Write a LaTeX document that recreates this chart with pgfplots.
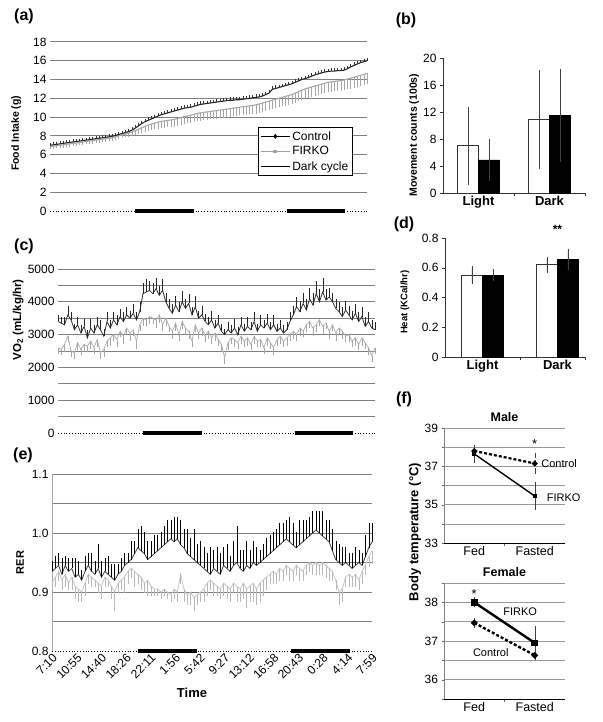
\documentclass[border=0pt]{standalone}
\usepackage{fontspec}
\setmainfont{Liberation Sans}
\usepackage{pgfplots}
\usepackage{pgfplotstable}
\pgfplotsset{compat=1.18}

% cumulative food intake (g), every 0.5 h
\pgfplotstableread{
t c ce f fe
0 7.00 .15 6.85 .15
0.5 7.05 .15 6.90 .15
1 7.10 .15 6.95 .15
1.5 7.15 .15 7.00 .15
2 7.20 .15 7.05 .2
2.5 7.25 .15 7.10 .2
3 7.30 .15 7.15 .2
3.5 7.35 .15 7.20 .2
4 7.40 .15 7.25 .2
4.5 7.45 .15 7.30 .2
5 7.50 .15 7.35 .2
5.5 7.55 .15 7.40 .2
6 7.60 .15 7.45 .2
6.5 7.65 .15 7.50 .2
7 7.70 .15 7.55 .2
7.5 7.75 .15 7.60 .2
8 7.80 .15 7.65 .2
8.5 7.85 .15 7.70 .2
9 7.90 .15 7.75 .2
9.5 7.95 .15 7.80 .2
10 8.05 .15 7.90 .2
10.5 8.15 .15 8.00 .25
11 8.25 .15 8.10 .25
11.5 8.35 .15 8.20 .25
12 8.45 .2 8.30 .3
12.5 8.60 .2 8.40 .3
13 8.80 .2 8.55 .35
13.5 9.05 .2 8.70 .4
14 9.30 .2 8.85 .45
14.5 9.50 .2 9.00 .5
15 9.65 .2 9.15 .5
15.5 9.80 .2 9.25 .55
16 9.95 .2 9.35 .55
16.5 10.10 .2 9.45 .6
17 10.25 .2 9.55 .6
17.5 10.35 .2 9.60 .6
18 10.45 .2 9.65 .6
18.5 10.55 .2 9.70 .6
19 10.65 .2 9.75 .65
19.5 10.75 .2 9.85 .65
20 10.85 .2 9.95 .65
20.5 10.95 .2 10.05 .65
21 11.00 .2 10.10 .65
21.5 11.05 .2 10.20 .7
22 11.15 .2 10.30 .7
22.5 11.25 .2 10.40 .7
23 11.35 .2 10.45 .7
23.5 11.40 .2 10.50 .7
24 11.45 .2 10.55 .7
24.5 11.50 .2 10.60 .7
25 11.55 .2 10.65 .7
25.5 11.60 .2 10.70 .75
26 11.65 .2 10.75 .75
26.5 11.70 .2 10.80 .75
27 11.75 .2 10.85 .75
27.5 11.80 .2 10.90 .75
28 11.80 .2 10.95 .75
28.5 11.85 .2 11.00 .75
29 11.85 .2 11.05 .75
29.5 11.90 .2 11.10 .8
30 11.95 .2 11.15 .8
30.5 12.00 .2 11.20 .8
31 12.05 .2 11.25 .8
31.5 12.10 .2 11.30 .8
32 12.15 .2 11.40 .8
32.5 12.25 .2 11.50 .8
33 12.40 .2 11.60 .8
33.5 12.55 .2 11.70 .8
34 12.95 .2 11.80 .8
34.5 13.05 .2 11.90 .85
35 13.15 .2 12.00 .85
35.5 13.25 .2 12.10 .85
36 13.35 .2 12.20 .85
36.5 13.45 .2 12.30 .85
37 13.55 .2 12.40 .9
37.5 13.70 .2 12.55 .9
38 13.85 .2 12.70 .9
38.5 14.00 .2 12.85 .9
39 14.10 .2 13.00 .9
39.5 14.20 .2 13.10 .9
40 14.35 .2 13.20 .9
40.5 14.50 .2 13.30 .9
41 14.60 .2 13.40 .9
41.5 14.70 .2 13.50 .9
42 14.80 .2 13.60 .9
42.5 14.85 .2 13.70 .95
43 14.90 .2 13.75 .95
43.5 14.90 .2 13.80 .95
44 14.95 .2 13.85 .95
44.5 14.95 .2 13.90 .95
45 15.00 .2 13.95 .95
45.5 15.15 .2 14.05 .95
46 15.35 .2 14.15 1.0
46.5 15.50 .2 14.25 1.0
47 15.65 .2 14.35 1.0
47.5 15.80 .2 14.45 1.0
48 15.90 .2 14.55 1.0
48.5 16.00 .2 14.65 1.0
}\foodtab

% VO2 (mL/kg/hr): upper trace a (errors up), lower trace b (errors down)
\pgfplotstableread{
t a ae b be
0 3400 150 2600 150
0.5 3350 150 2550 150
1 3300 200 2700 200
1.5 3600 250 2950 150
2 3450 200 2500 150
2.5 3150 150 2450 150
3 3300 200 2750 200
3.5 3050 200 2550 150
4 3250 200 2700 200
4.5 2900 200 2650 150
5 3200 250 2800 200
5.5 3050 200 2600 150
6 3300 200 2850 200
6.5 3150 250 2450 150
7 2950 200 2550 200
7.5 3400 250 2800 150
8 3200 200 2900 200
8.5 3450 200 3000 150
9 3300 250 2850 200
9.5 3550 200 3100 150
10 3400 250 2950 200
10.5 3600 200 3200 150
11 3500 200 3050 200
11.5 3650 250 3150 150
12 3450 200 2800 200
12.5 3700 250 3300 150
13 4250 300 3500 200
13.5 4300 350 3450 150
14 4350 250 3550 200
14.5 4250 300 3500 150
15 4400 300 3450 200
15.5 4200 250 3600 200
16 4350 300 3300 150
16.5 4000 250 3500 200
17 3800 250 3250 150
17.5 3650 250 3100 200
18 3900 250 3350 200
18.5 3700 250 3000 150
19 4000 300 3400 200
19.5 3800 250 3200 150
20 3950 250 3100 200
20.5 3600 200 2800 150
21 3850 300 3300 200
21.5 3500 200 3050 150
22 3600 250 3200 200
22.5 3400 200 2950 150
23 3300 200 3100 200
23.5 3450 250 2900 150
24 3200 200 3050 200
24.5 3350 200 2850 150
25 3100 200 2700 200
25.5 3000 150 2300 150
26 3150 200 2750 200
26.5 3050 200 2900 150
27 3200 250 2850 200
27.5 3000 200 2750 150
28 3300 200 2950 200
28.5 3100 200 2800 150
29 3250 250 2900 200
29.5 3150 200 2700 150
30 3400 250 2950 200
30.5 3100 200 2800 150
31 3300 250 2850 200
31.5 3200 200 2600 150
32 3350 250 2900 200
32.5 3150 200 2750 150
33 3300 250 2600 200
33.5 3100 200 2850 150
34 3200 200 2950 200
34.5 3050 200 2800 150
35 3150 200 2900 200
35.5 3400 250 3000 150
36 3600 250 3100 200
36.5 3850 250 3000 150
37 3700 300 3200 200
37.5 3950 300 3100 150
38 3750 300 3300 200
38.5 4100 300 3400 150
39 3900 350 3200 200
39.5 4250 350 3300 200
40 4000 350 3450 150
40.5 4300 400 3250 200
41 4050 300 3350 150
41.5 4150 250 3100 200
42 4000 250 3300 150
42.5 3800 250 3050 200
43 3700 250 3200 150
43.5 3550 250 3100 200
44 3750 250 2950 150
44.5 3600 250 3000 200
45 3450 250 2800 150
45.5 3650 250 2900 200
46 3400 250 2700 150
46.5 3550 250 2900 200
47 3250 250 2750 150
47.5 3400 250 2600 200
48 3200 200 2350 150
48.5 3150 200 2600 150
}\votab

% RER: control (errors up), FIRKO (errors down)
\pgfplotstableread{
t c ce f fe
0 0.935 0.015 0.915 0.010
0.5 0.940 0.020 0.925 0.015
1 0.945 0.020 0.935 0.015
1.5 0.930 0.025 0.920 0.015
2 0.945 0.015 0.930 0.020
2.5 0.935 0.020 0.915 0.010
3 0.940 0.015 0.925 0.020
3.5 0.925 0.030 0.910 0.020
4 0.930 0.020 0.905 0.020
4.5 0.920 0.015 0.900 0.015
5 0.935 0.025 0.915 0.020
5.5 0.945 0.020 0.930 0.015
6 0.935 0.030 0.925 0.015
6.5 0.930 0.020 0.920 0.010
7 0.940 0.040 0.915 0.015
7.5 0.925 0.025 0.910 0.020
8 0.935 0.020 0.925 0.015
8.5 0.930 0.030 0.920 0.010
9 0.925 0.020 0.910 0.020
9.5 0.920 0.025 0.900 0.030
10 0.930 0.015 0.915 0.015
10.5 0.935 0.020 0.920 0.015
11 0.945 0.020 0.925 0.025
11.5 0.950 0.015 0.935 0.020
12 0.955 0.030 0.940 0.015
12.5 0.965 0.020 0.935 0.025
13 0.975 0.030 0.930 0.015
13.5 0.970 0.040 0.925 0.020
14 0.965 0.035 0.915 0.015
14.5 0.955 0.030 0.920 0.025
15 0.960 0.025 0.910 0.015
15.5 0.965 0.030 0.905 0.010
16 0.970 0.025 0.905 0.010
16.5 0.975 0.025 0.900 0.010
17 0.980 0.030 0.905 0.010
17.5 0.985 0.035 0.900 0.010
18 0.990 0.030 0.895 0.010
18.5 0.985 0.040 0.905 0.015
19 0.990 0.035 0.900 0.015
19.5 0.980 0.040 0.930 0.015
20 0.975 0.030 0.905 0.020
20.5 0.965 0.040 0.895 0.015
21 0.960 0.030 0.900 0.020
21.5 0.955 0.050 0.890 0.020
22 0.950 0.030 0.895 0.015
22.5 0.945 0.040 0.900 0.015
23 0.940 0.035 0.905 0.020
23.5 0.935 0.030 0.915 0.020
24 0.930 0.045 0.920 0.015
24.5 0.940 0.030 0.915 0.020
25 0.935 0.040 0.910 0.015
25.5 0.930 0.035 0.905 0.015
26 0.945 0.030 0.915 0.020
26.5 0.940 0.040 0.910 0.020
27 0.935 0.025 0.905 0.020
27.5 0.945 0.040 0.915 0.015
28 0.950 0.060 0.910 0.025
28.5 0.940 0.030 0.905 0.020
29 0.935 0.035 0.915 0.025
29.5 0.945 0.040 0.905 0.030
30 0.940 0.030 0.910 0.025
30.5 0.950 0.035 0.915 0.030
31 0.945 0.030 0.905 0.025
31.5 0.950 0.020 0.915 0.030
32 0.955 0.025 0.920 0.025
32.5 0.960 0.030 0.925 0.020
33 0.965 0.030 0.930 0.015
33.5 0.970 0.030 0.935 0.020
34 0.975 0.030 0.930 0.015
34.5 0.980 0.035 0.940 0.020
35 0.985 0.030 0.935 0.015
35.5 0.990 0.030 0.945 0.015
36 0.985 0.040 0.940 0.020
36.5 0.980 0.035 0.935 0.015
37 0.975 0.025 0.945 0.015
37.5 0.980 0.040 0.940 0.020
38 0.985 0.035 0.935 0.015
38.5 0.990 0.030 0.945 0.015
39 0.995 0.030 0.950 0.015
39.5 1.000 0.035 0.945 0.015
40 1.005 0.030 0.950 0.020
40.5 1.000 0.035 0.945 0.015
41 0.995 0.040 0.950 0.020
41.5 0.990 0.030 0.945 0.020
42 0.985 0.035 0.940 0.020
42.5 0.970 0.035 0.935 0.015
43 0.955 0.030 0.920 0.015
43.5 0.950 0.030 0.900 0.020
44 0.945 0.030 0.905 0.020
44.5 0.950 0.025 0.925 0.015
45 0.945 0.020 0.930 0.020
45.5 0.940 0.025 0.925 0.015
46 0.945 0.030 0.930 0.020
46.5 0.950 0.020 0.920 0.015
47 0.945 0.020 0.935 0.020
47.5 0.960 0.035 0.945 0.015
48 0.975 0.040 0.960 0.015
48.5 0.985 0.030 0.970 0.020
}\rertab

\pgfplotstableread{
x w we k ke
0 7.0 5.3 4.9 2.7
1 10.9 6.9 11.5 6.5
}\movetab

\pgfplotstableread{
x w we k ke
0 0.55 0.05 0.55 0.03
1 0.62 0.045 0.655 0.06
}\heattab

\pgfplotsset{
  every axis/.append style={scale only axis, anchor=south west, clip=false,
    /pgf/number format/assume math mode=true, /pgf/number format/1000 sep={},
    scaled ticks=false, tick label style={font=\fontsize{12}{14}\selectfont}},
  timeaxis/.style={xmin=0, xmax=48.5, xtick=\empty, axis line style={draw=none},
    tick style={draw=none}, ymajorgrids, yminorgrids,
    grid style={black!50, line width=1pt}, minor grid style={black!50, line width=1pt},
    extra y tick style={grid=none}},
  barax/.style={ybar=0pt, bar width=21pt, xmin=-0.5, ymin=0,
    axis x line*=bottom, axis y line*=left, axis line style={-, black!80, line width=0.6pt},
    tick align=outside, major tick length=3pt, tick style={black!80},
    xticklabels={}, extra x ticks={0,1}, extra x tick labels={Light,Dark},
    extra x tick style={major tick length=0pt,
      xticklabel style={font=\bfseries\fontsize{13}{15}\selectfont}}},
  tempax/.style={xmin=-0.5, xmax=1.5, axis x line*=bottom, axis y line*=left,
    x axis line style={-, black, line width=0.7pt}, y axis line style={-, gray, line width=0.7pt},
    ymajorgrids, grid style={black!40, line width=0.6pt},
    tick align=outside, major tick length=2.5pt, tick style={gray!80!black},
    xtick={0.5}, xticklabels={}, extra x ticks={0,1}, extra x tick labels={Fed,Fasted},
    extra x tick style={major tick length=0pt,
      xticklabel style={font=\fontsize{12.5}{14}\selectfont}},
    title style={font=\bfseries\fontsize{12.5}{14}\selectfont, at={(0.5,1)}, anchor=south, yshift=-3pt}},
  errup/.style={error bars/.cd, y dir=plus, y explicit,
    error bar style={#1, line width=0.4pt}, error mark options={#1, mark size=1.1pt}},
  errdown/.style={error bars/.cd, y dir=minus, y explicit,
    error bar style={#1, line width=0.4pt}, error mark options={#1, mark size=1.1pt}},
  errboth/.style={error bars/.cd, y dir=both, y explicit,
    error bar style={black!75, line width=0.5pt}, error mark options={black!75, mark size=#1}},
}

\begin{document}
\begin{tikzpicture}
\useasboundingbox (0,0) rectangle (602pt,-722pt);

% ---------------- (a) food intake
\begin{axis}[timeaxis, at={(50pt,-211pt)}, width=317pt, height=169pt,
  ymin=0, ymax=18, ytick={2,4,...,18}, extra y ticks={0},
  ylabel={Food Intake (g)},
  ylabel style={font=\bfseries\fontsize{10.5}{12}\selectfont, at={(axis description cs:-0.107,0.46)}, anchor=center},
  legend style={at={(0.656,0.497)}, anchor=north west, draw=black, line width=0.6pt,
    font=\fontsize{12}{14}\selectfont, fill=white, inner sep=2pt, row sep=1pt},
  legend cell align=left,
  legend image code/.code={\draw[mark repeat=2, mark phase=2, #1] plot coordinates {(0cm,0cm) (0.5cm,0cm) (1cm,0cm)};}]
\addlegendimage{black, line width=0.8pt, mark=diamond*, mark size=1.8pt}
\addlegendentry{Control}
\addlegendimage{gray!75, line width=0.8pt, mark=square*, mark size=1.4pt}
\addlegendentry{FIRKO}
\addlegendimage{black, line width=1.6pt}
\addlegendentry{Dark cycle}
\addplot[black, dotted, line width=0.8pt, forget plot] coordinates {(0,0) (48.5,0)};
\addplot[black, line width=4pt, forget plot] coordinates {(13,0) (22,0)};
\addplot[black, line width=4pt, forget plot] coordinates {(36.2,0) (45.2,0)};
\addplot[gray!70, line width=1.1pt, forget plot, errdown=gray!70] table[x=t, y=f, y error=fe] {\foodtab};
\addplot[black!85, line width=1.1pt, forget plot, errup=black!80] table[x=t, y=c, y error=ce] {\foodtab};
\end{axis}

% ---------------- (b) movement counts
\begin{axis}[barax, at={(443pt,-193pt)}, width=142pt, height=135pt,
  xmax=1.5, xtick={0.5,1.5}, ymax=20, ytick={0,4,...,20},
  ylabel={Movement counts (100s)},
  ylabel style={font=\bfseries\fontsize{10.5}{12}\selectfont, at={(axis description cs:-0.204,0.43)}, anchor=center}]
\addplot[fill=white, draw=black!80, line width=0.6pt, errboth=3pt] table[x=x, y=w, y error=we] {\movetab};
\addplot[fill=black, draw=black, line width=0.6pt, errboth=3pt] table[x=x, y=k, y error=ke] {\movetab};
\end{axis}

% ---------------- (c) VO2
\begin{axis}[timeaxis, at={(58pt,-433pt)}, width=317pt, height=164pt,
  ymin=0, ymax=5000, ytick={1000,2000,...,5000}, minor ytick={500,1500,...,4500},
  extra y ticks={0},
  ylabel={VO\textsubscript{2} (mL/kg/hr)},
  ylabel style={font=\bfseries\fontsize{11.5}{13}\selectfont, at={(axis description cs:-0.126,0.69)}, anchor=center}]
\addplot[black, dotted, line width=0.8pt] coordinates {(0,0) (48.5,0)};
\addplot[black, line width=4pt] coordinates {(13,0) (22,0)};
\addplot[black, line width=4pt] coordinates {(36.2,0) (45.2,0)};
\addplot[gray!60, line width=0.8pt, errdown=gray!70] table[x=t, y=b, y error=be] {\votab};
\addplot[gray!40!black, line width=0.8pt, errup=gray!30!black] table[x=t, y=a, y error=ae] {\votab};
\end{axis}

% ---------------- (d) heat
\begin{axis}[barax, at={(445pt,-357pt)}, width=140pt, height=119pt,
  xmax=1.367, xtick={0.5,1.367}, ymax=0.8, ytick={0,0.2,0.4,0.6,0.8},
  ylabel={Heat (KCal/hr)},
  ylabel style={font=\bfseries\fontsize{9.5}{11}\selectfont, at={(axis description cs:-0.286,0.46)}, anchor=center}]
\addplot[fill=white, draw=black!80, line width=0.6pt, errboth=1.5pt] table[x=x, y=w, y error=we] {\heattab};
\addplot[fill=black, draw=black, line width=0.6pt, errboth=1.5pt] table[x=x, y=k, y error=ke] {\heattab};
\node[font=\bfseries\fontsize{12}{14}\selectfont] at (axis cs:1,0.855) {**};
\end{axis}

% ---------------- (e) RER
\begin{axis}[timeaxis, at={(52pt,-651pt)}, width=320pt, height=177pt,
  ymin=0.8, ymax=1.1, ytick={0.9,1.0,1.1}, minor ytick={0.85,0.95,1.05},
  extra y ticks={0.8},
  y tick label style={/pgf/number format/.cd, fixed, fixed zerofill, precision=1},
  separate axis lines, axis y line*=left, y axis line style={draw=gray!70, line width=1pt},
  xtick={0,3.7308,7.4615,11.1923,14.9231,18.6538,22.3846,26.1154,29.8462,33.5769,37.3077,41.0385,44.7692,48.5},
  xticklabels={7:10,10:55,14:40,18:26,22:11,1:56,5:42,9:27,13:12,16:58,20:43,0:28,4:14,7:59},
  xticklabel style={rotate=45, anchor=north east, inner sep=1pt, font=\fontsize{12}{14}\selectfont},
  ylabel={RER}, xlabel={Time},
  ylabel style={font=\bfseries\fontsize{11}{13}\selectfont, at={(axis description cs:-0.1,0.5)}, anchor=center},
  xlabel style={font=\bfseries\fontsize{13}{15}\selectfont, at={(axis description cs:0.4375,-0.237)}, anchor=center}]
\addplot[black, dotted, line width=0.8pt] coordinates {(0,0.8) (48.5,0.8)};
\addplot[black, line width=4pt] coordinates {(13,0.8) (22,0.8)};
\addplot[black, line width=4pt] coordinates {(36.2,0.8) (45.2,0.8)};
\addplot[gray!45, line width=0.8pt, errdown=gray!55] table[x=t, y=f, y error=fe] {\rertab};
\addplot[gray!50!black, line width=0.8pt, errup=black] table[x=t, y=c, y error=ce] {\rertab};
\end{axis}

% ---------------- (f) body temperature, male
\begin{axis}[tempax, at={(444pt,-543pt)}, width=121pt, height=115pt,
  ymin=33, ymax=39, ytick={33,34,...,39}, yticklabels={33,,35,,37,,39},
  title={Male}]
\addplot[black, line width=2.2pt, dash pattern=on 3pt off 2pt, mark=*, mark size=1.6pt,
  mark options={solid}, errboth=2pt] coordinates {(0,37.8) +- (0,0.15) (1,37.15) +- (0,0.42)};
\addplot[black, line width=1.4pt, mark=square*, mark size=1.5pt, errboth=2pt]
  coordinates {(0,37.65) +- (0,0.35) (1,35.45) +- (0,0.62)};
\node[font=\fontsize{11}{13}\selectfont, anchor=west, inner sep=1pt] at (axis cs:1.09,37.17) {Control};
\node[font=\fontsize{11}{13}\selectfont, anchor=west, inner sep=1pt] at (axis cs:1.18,35.35) {FIRKO};
\node[font=\fontsize{13}{15}\selectfont] at (axis cs:1,38.15) {*};
\end{axis}

% ---------------- (f) body temperature, female
\begin{axis}[tempax, at={(444pt,-699pt)}, width=121pt, height=116pt,
  ymin=35.5, ymax=38.5, ytick={35.5,36,...,38.5}, yticklabels={,36,,37,,38,},
  title={Female}]
\addplot[black, line width=2.4pt, dash pattern=on 3pt off 2pt, mark=*, mark size=1.8pt,
  mark options={solid}, errboth=2pt] coordinates {(0,37.47) +- (0,0.08) (1,36.63) +- (0,0.08)};
\addplot[black, line width=2.4pt, mark=square*, mark size=2.2pt, errboth=2pt]
  coordinates {(0,38.0) +- (0,0.08) (1,36.95) +- (0,0.38)};
\node[font=\fontsize{11}{13}\selectfont, anchor=west, inner sep=1pt] at (axis cs:0.46,37.77) {FIRKO};
\node[font=\fontsize{11}{13}\selectfont, anchor=west, inner sep=1pt] at (axis cs:-0.04,36.69) {Control};
\node[font=\fontsize{13}{15}\selectfont] at (axis cs:0,38.22) {*};
\end{axis}

% panel letters and shared label
\node[font=\bfseries\fontsize{16}{18}\selectfont] at (24pt,-16pt) {(a)};
\node[font=\bfseries\fontsize{16}{18}\selectfont] at (406pt,-20pt) {(b)};
\node[font=\bfseries\fontsize{16}{18}\selectfont] at (24pt,-246pt) {(c)};
\node[font=\bfseries\fontsize{16}{18}\selectfont] at (404pt,-224pt) {(d)};
\node[font=\bfseries\fontsize{16}{18}\selectfont] at (23pt,-455pt) {(e)};
\node[font=\bfseries\fontsize{16}{18}\selectfont] at (404pt,-399pt) {(f)};
\node[rotate=90, font=\bfseries\fontsize{13}{15}\selectfont] at (415pt,-532pt) {Body temperature (°C)};
\end{tikzpicture}
\end{document}
